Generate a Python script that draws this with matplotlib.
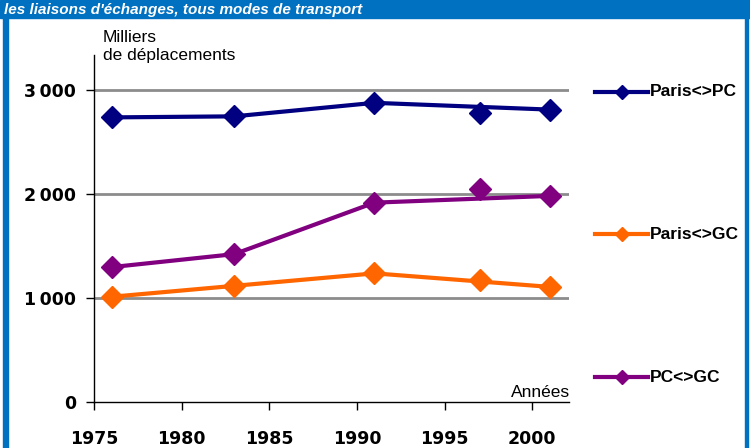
import matplotlib.pyplot as plt
from matplotlib.lines import Line2D
from matplotlib.patches import Rectangle

years = [1976, 1983, 1991, 1997, 2001]
paris_pc = [2740, 2750, 2880, 2780, 2815]
paris_gc = [1015, 1120, 1240, 1175, 1110]
pc_gc = [1300, 1425, 1920, 2050, 1985]
series_names = ['Paris<>PC', 'Paris<>GC', 'PC<>GC']
colors = ['#000080', '#FF6600', '#800080']
# 1997 point is drawn as marker only, the line skips it
line_idx = [0, 1, 2, 4]

yticks = [0, 1000, 2000, 3000]
ytick_labels = ['0', '1\u2009000', '2\u2009000', '3\u2009000']
xticks = [1975, 1980, 1985, 1990, 1995, 2000]

plt.rcParams['font.family'] = ['Liberation Sans', 'DejaVu Sans']

fig = plt.figure(figsize=(7.5, 4.48), dpi=100)
W, H = 750, 448

# blue frame
fig.patches.append(Rectangle((0, 1 - 18 / H), 1, 18 / H, transform=fig.transFigure,
                             color='#0070C0', zorder=0))
fig.patches.append(Rectangle((3 / W, 0), 5 / W, 1, transform=fig.transFigure,
                             color='#0070C0', zorder=0))
fig.patches.append(Rectangle((1 - 5 / W, 0), 3 / W, 1, transform=fig.transFigure,
                             color='#0070C0', zorder=0))
fig.text(4 / W, 1 - 14 / H, "les liaisons d'échanges, tous modes de transport",
         color='white', fontsize=11, fontweight='bold', style='italic',
         ha='left', va='baseline')

ax = fig.add_axes([94 / W, 1 - 402.3 / H, (569 - 94) / W, (402.3 - 55) / H])
ax.set_xlim(1975, 2002.1)
ax.set_ylim(0, 3340)

for vals, c in zip([paris_pc, paris_gc, pc_gc], colors):
    ax.plot([years[i] for i in line_idx], [vals[i] for i in line_idx],
            color=c, lw=3, zorder=3)
    ax.plot(years, vals, ls='none', marker='D', ms=11, color=c, zorder=4)

ax.set_yticks(yticks)
ax.set_yticklabels(ytick_labels)
ax.set_xticks(xticks)
for t in ax.get_yticklabels() + ax.get_xticklabels():
    t.set_fontweight('bold')
    t.set_fontsize(12.5)
    t.set_family('DejaVu Sans')
ax.tick_params(axis='y', direction='out', length=6, width=1, pad=7)
ax.tick_params(axis='x', direction='out', length=6, width=1, pad=14)
for y in yticks[1:]:
    ax.axhline(y, color='#8C8C8C', lw=2, zorder=1)
ax.spines['top'].set_visible(False)
ax.spines['right'].set_visible(False)
ax.spines['left'].set_linewidth(1)
ax.spines['bottom'].set_linewidth(1)

fig.text(103 / W, 1 - 42 / H, 'Milliers', fontsize=12.5, ha='left', va='baseline')
fig.text(103 / W, 1 - 60 / H, 'de déplacements', fontsize=12.5, ha='left', va='baseline')
fig.text(570 / W, 1 - 397 / H, 'Années', fontsize=12.5, ha='right', va='baseline')

# legend entries on the right
legend_y = [92, 234, 377]
for name, c, yp in zip(series_names, colors, legend_y):
    fy = 1 - yp / H
    fig.lines.append(Line2D([595 / W, 648 / W], [fy, fy], transform=fig.transFigure,
                            color=c, lw=3))
    fig.lines.append(Line2D([622 / W], [fy], transform=fig.transFigure,
                            color=c, marker='D', ms=7, ls='none'))
    fig.text(650 / W, fy, name, fontsize=12.5, fontweight='bold', ha='left', va='center')

fig.savefig('out.png', dpi=100)
